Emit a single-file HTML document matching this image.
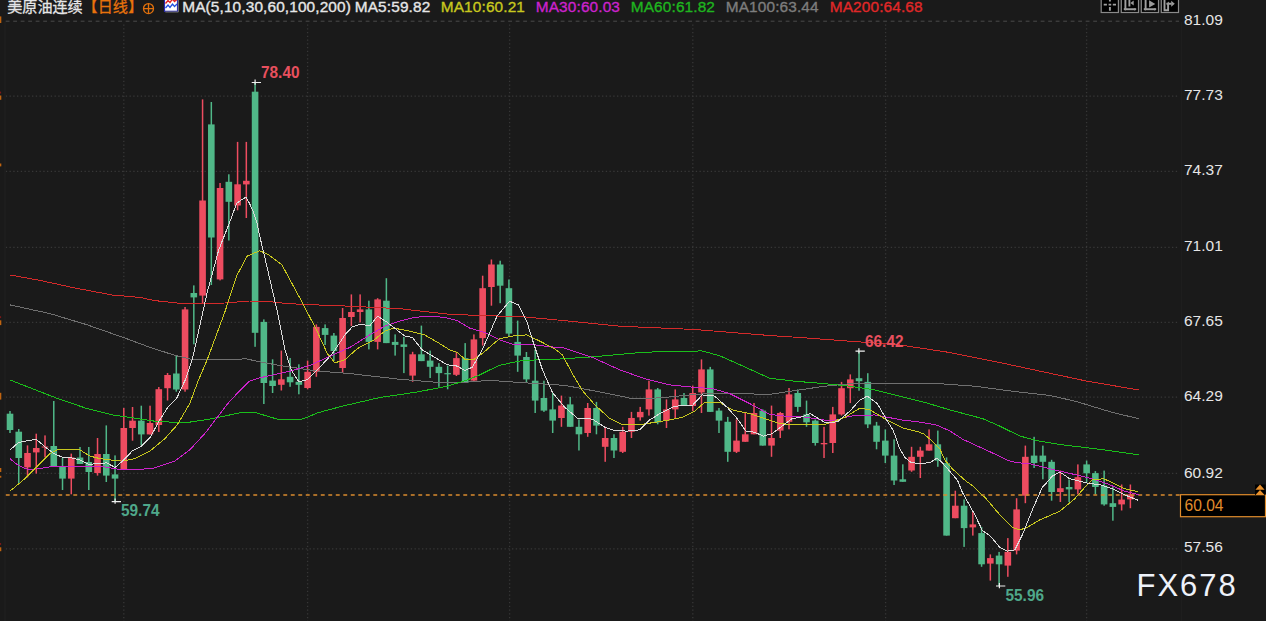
<!DOCTYPE html>
<html lang="zh"><head><meta charset="utf-8"><title>美原油连续 日线</title>
<style>
html,body{margin:0;padding:0;background:#1a1a1a;overflow:hidden}
body{width:1266px;height:621px;position:relative;font-family:"Liberation Sans","Noto Sans CJK SC",sans-serif}
svg{position:absolute;left:0;top:0;display:block}
text{font-family:"Liberation Sans","Noto Sans CJK SC",sans-serif}
.ax{font-size:15.5px;fill:#e6e6e6}
.hd{font-size:15.4px;letter-spacing:0.12px;stroke-width:0.35px}
.mk{font-size:16.3px;font-weight:bold}
</style></head><body>
<svg width="1266" height="621" viewBox="0 0 1266 621">
<rect x="0" y="0" width="1266" height="621" fill="#1a1a1a"/>

<g fill="none" shape-rendering="auto">
<line x1="5.7" y1="21.2" x2="1179" y2="21.2" stroke="#4a4a4a" stroke-width="1" stroke-dasharray="3.8 3.7"/>
<line x1="5.75" y1="96.2" x2="1178" y2="96.2" stroke="#373737" stroke-width="1.3" stroke-dasharray="1.35 2.4"/>
<line x1="5.75" y1="171.3" x2="1178" y2="171.3" stroke="#373737" stroke-width="1.3" stroke-dasharray="1.35 2.4"/>
<line x1="5.75" y1="247.4" x2="1178" y2="247.4" stroke="#373737" stroke-width="1.3" stroke-dasharray="1.35 2.4"/>
<line x1="5.75" y1="322.4" x2="1178" y2="322.4" stroke="#373737" stroke-width="1.3" stroke-dasharray="1.35 2.4"/>
<line x1="5.75" y1="397.2" x2="1178" y2="397.2" stroke="#373737" stroke-width="1.3" stroke-dasharray="1.35 2.4"/>
<line x1="5.75" y1="473.3" x2="1178" y2="473.3" stroke="#373737" stroke-width="1.3" stroke-dasharray="1.35 2.4"/>
<line x1="5.75" y1="548.9" x2="1178" y2="548.9" stroke="#373737" stroke-width="1.3" stroke-dasharray="1.35 2.4"/>
<line x1="123.8" y1="24.5" x2="123.8" y2="621" stroke="#373737" stroke-width="1.3" stroke-dasharray="1.35 2.4"/>
<line x1="307.6" y1="24.5" x2="307.6" y2="621" stroke="#373737" stroke-width="1.3" stroke-dasharray="1.35 2.4"/>
<line x1="509.6" y1="24.5" x2="509.6" y2="621" stroke="#373737" stroke-width="1.3" stroke-dasharray="1.35 2.4"/>
<line x1="692.8" y1="24.5" x2="692.8" y2="621" stroke="#373737" stroke-width="1.3" stroke-dasharray="1.35 2.4"/>
<line x1="885.6" y1="24.5" x2="885.6" y2="621" stroke="#373737" stroke-width="1.3" stroke-dasharray="1.35 2.4"/>
<line x1="1086.6" y1="24.5" x2="1086.6" y2="621" stroke="#373737" stroke-width="1.3" stroke-dasharray="1.35 2.4"/>
<line x1="5" y1="22" x2="5" y2="621" stroke="#1f1f1f" stroke-width="1.6"/>
<line x1="1181.5" y1="22" x2="1181.5" y2="621" stroke="#1e1e1e" stroke-width="1"/>
</g>
<g fill="#c06410">
<rect x="0" y="16.4" width="1.3" height="6.6"/>
<rect x="0" y="95.5" width="1.3" height="4.3"/>
<rect x="0" y="163.5" width="1.3" height="2.9"/>
<rect x="0" y="320.3" width="1.3" height="4.8"/>
<rect x="0" y="392.8" width="1.3" height="6.8"/>
<rect x="0" y="468.0" width="1.3" height="4.0"/>
<rect x="0" y="475.8" width="1.3" height="1.9"/>
<rect x="0" y="547.3" width="1.3" height="3.9"/>
</g>
<g fill="#7a1818">
<rect x="0" y="91.6" width="1.1" height="1.9"/>
<rect x="0" y="316.2" width="1.1" height="1.9"/>
<rect x="0" y="543.0" width="1.1" height="1.9"/>
</g>
<g>
<rect x="9.25" y="411.0" width="1.5" height="22.0" fill="#50b888"/>
<rect x="6.70" y="413.7" width="6.6" height="16.3" fill="#50b888"/>
<rect x="18.00" y="429.0" width="1.5" height="54.6" fill="#50b888"/>
<rect x="15.45" y="431.7" width="6.6" height="26.3" fill="#50b888"/>
<rect x="26.76" y="445.4" width="1.5" height="32.0" fill="#ee4c60"/>
<rect x="24.21" y="453.0" width="6.6" height="14.4" fill="#ee4c60"/>
<rect x="35.51" y="433.7" width="1.5" height="39.9" fill="#ee4c60"/>
<rect x="32.96" y="448.0" width="6.6" height="4.4" fill="#ee4c60"/>
<rect x="44.26" y="435.4" width="1.5" height="22.0" fill="#ee4c60"/>
<rect x="41.71" y="446.5" width="6.6" height="1.0" fill="#ee4c60"/>
<rect x="53.02" y="401.0" width="1.5" height="65.0" fill="#50b888"/>
<rect x="50.47" y="446.0" width="6.6" height="20.0" fill="#50b888"/>
<rect x="61.77" y="458.0" width="1.5" height="32.0" fill="#50b888"/>
<rect x="59.22" y="466.0" width="6.6" height="12.6" fill="#50b888"/>
<rect x="70.52" y="453.6" width="1.5" height="40.7" fill="#ee4c60"/>
<rect x="67.97" y="457.4" width="6.6" height="21.2" fill="#ee4c60"/>
<rect x="79.27" y="447.0" width="1.5" height="17.0" fill="#50b888"/>
<rect x="76.72" y="457.5" width="6.6" height="6.5" fill="#50b888"/>
<rect x="88.03" y="447.0" width="1.5" height="43.0" fill="#50b888"/>
<rect x="85.48" y="462.0" width="6.6" height="10.0" fill="#50b888"/>
<rect x="96.78" y="438.0" width="1.5" height="37.6" fill="#ee4c60"/>
<rect x="94.23" y="454.0" width="6.6" height="19.0" fill="#ee4c60"/>
<rect x="105.53" y="425.4" width="1.5" height="56.6" fill="#50b888"/>
<rect x="102.98" y="454.0" width="6.6" height="21.6" fill="#50b888"/>
<rect x="114.29" y="455.4" width="1.5" height="46.2" fill="#50b888"/>
<rect x="111.74" y="474.4" width="6.6" height="4.2" fill="#50b888"/>
<rect x="123.04" y="408.0" width="1.5" height="62.0" fill="#ee4c60"/>
<rect x="120.49" y="428.0" width="6.6" height="42.0" fill="#ee4c60"/>
<rect x="131.79" y="407.0" width="1.5" height="33.7" fill="#ee4c60"/>
<rect x="129.24" y="420.7" width="6.6" height="7.3" fill="#ee4c60"/>
<rect x="140.55" y="405.7" width="1.5" height="39.7" fill="#50b888"/>
<rect x="138.00" y="420.7" width="6.6" height="13.7" fill="#50b888"/>
<rect x="149.30" y="405.7" width="1.5" height="28.7" fill="#ee4c60"/>
<rect x="146.75" y="423.0" width="6.6" height="11.4" fill="#ee4c60"/>
<rect x="158.05" y="387.0" width="1.5" height="45.0" fill="#ee4c60"/>
<rect x="155.50" y="389.2" width="6.6" height="35.8" fill="#ee4c60"/>
<rect x="166.80" y="373.0" width="1.5" height="27.5" fill="#ee4c60"/>
<rect x="164.25" y="375.0" width="6.6" height="13.2" fill="#ee4c60"/>
<rect x="175.56" y="355.0" width="1.5" height="36.7" fill="#50b888"/>
<rect x="173.01" y="373.5" width="6.6" height="16.0" fill="#50b888"/>
<rect x="184.31" y="307.0" width="1.5" height="84.7" fill="#ee4c60"/>
<rect x="181.76" y="309.4" width="6.6" height="80.1" fill="#ee4c60"/>
<rect x="193.06" y="285.4" width="1.5" height="58.9" fill="#50b888"/>
<rect x="190.51" y="293.0" width="6.6" height="4.4" fill="#50b888"/>
<rect x="201.82" y="99.4" width="1.5" height="203.6" fill="#ee4c60"/>
<rect x="199.27" y="200.5" width="6.6" height="95.1" fill="#ee4c60"/>
<rect x="210.57" y="102.0" width="1.5" height="183.0" fill="#50b888"/>
<rect x="208.02" y="124.4" width="6.6" height="113.1" fill="#50b888"/>
<rect x="219.32" y="183.0" width="1.5" height="97.4" fill="#ee4c60"/>
<rect x="216.77" y="188.0" width="6.6" height="91.4" fill="#ee4c60"/>
<rect x="228.07" y="174.3" width="1.5" height="66.2" fill="#50b888"/>
<rect x="225.52" y="181.8" width="6.6" height="20.0" fill="#50b888"/>
<rect x="236.83" y="141.9" width="1.5" height="68.4" fill="#ee4c60"/>
<rect x="234.28" y="184.3" width="6.6" height="21.2" fill="#ee4c60"/>
<rect x="245.58" y="141.9" width="1.5" height="76.1" fill="#ee4c60"/>
<rect x="243.03" y="180.8" width="6.6" height="3.6" fill="#ee4c60"/>
<rect x="254.33" y="82.5" width="1.5" height="264.3" fill="#50b888"/>
<rect x="251.78" y="91.7" width="6.6" height="241.1" fill="#50b888"/>
<rect x="263.09" y="319.4" width="1.5" height="84.6" fill="#50b888"/>
<rect x="260.54" y="321.9" width="6.6" height="61.1" fill="#50b888"/>
<rect x="271.84" y="359.3" width="1.5" height="33.7" fill="#50b888"/>
<rect x="269.29" y="380.6" width="6.6" height="5.4" fill="#50b888"/>
<rect x="280.59" y="350.6" width="1.5" height="39.9" fill="#ee4c60"/>
<rect x="278.04" y="379.3" width="6.6" height="5.5" fill="#ee4c60"/>
<rect x="289.35" y="358.0" width="1.5" height="28.8" fill="#50b888"/>
<rect x="286.80" y="376.8" width="6.6" height="5.5" fill="#50b888"/>
<rect x="298.10" y="364.3" width="1.5" height="30.0" fill="#50b888"/>
<rect x="295.55" y="381.8" width="6.6" height="3.0" fill="#50b888"/>
<rect x="306.85" y="360.6" width="1.5" height="28.7" fill="#ee4c60"/>
<rect x="304.30" y="371.8" width="6.6" height="16.2" fill="#ee4c60"/>
<rect x="315.61" y="324.4" width="1.5" height="52.4" fill="#ee4c60"/>
<rect x="313.06" y="326.9" width="6.6" height="44.9" fill="#ee4c60"/>
<rect x="324.36" y="324.4" width="1.5" height="20.6" fill="#50b888"/>
<rect x="321.81" y="328.1" width="6.6" height="6.8" fill="#50b888"/>
<rect x="333.11" y="333.0" width="1.5" height="28.0" fill="#50b888"/>
<rect x="330.56" y="335.6" width="6.6" height="15.4" fill="#50b888"/>
<rect x="341.86" y="308.0" width="1.5" height="65.0" fill="#ee4c60"/>
<rect x="339.31" y="318.0" width="6.6" height="50.0" fill="#ee4c60"/>
<rect x="350.62" y="294.4" width="1.5" height="31.6" fill="#ee4c60"/>
<rect x="348.07" y="312.0" width="6.6" height="5.0" fill="#ee4c60"/>
<rect x="359.37" y="294.4" width="1.5" height="28.0" fill="#ee4c60"/>
<rect x="356.82" y="309.4" width="6.6" height="2.6" fill="#ee4c60"/>
<rect x="368.12" y="300.7" width="1.5" height="48.7" fill="#50b888"/>
<rect x="365.57" y="309.4" width="6.6" height="32.5" fill="#50b888"/>
<rect x="376.88" y="298.2" width="1.5" height="51.2" fill="#ee4c60"/>
<rect x="374.33" y="299.4" width="6.6" height="42.5" fill="#ee4c60"/>
<rect x="385.63" y="278.2" width="1.5" height="64.9" fill="#50b888"/>
<rect x="383.08" y="300.7" width="6.6" height="42.4" fill="#50b888"/>
<rect x="394.38" y="334.4" width="1.5" height="21.2" fill="#50b888"/>
<rect x="391.83" y="341.9" width="6.6" height="3.0" fill="#50b888"/>
<rect x="403.13" y="336.9" width="1.5" height="36.2" fill="#50b888"/>
<rect x="400.58" y="344.4" width="6.6" height="2.5" fill="#50b888"/>
<rect x="411.89" y="351.8" width="1.5" height="30.0" fill="#ee4c60"/>
<rect x="409.34" y="354.3" width="6.6" height="21.3" fill="#ee4c60"/>
<rect x="420.64" y="325.6" width="1.5" height="35.5" fill="#50b888"/>
<rect x="418.09" y="354.3" width="6.6" height="6.8" fill="#50b888"/>
<rect x="429.39" y="350.6" width="1.5" height="27.4" fill="#50b888"/>
<rect x="426.84" y="360.6" width="6.6" height="6.2" fill="#50b888"/>
<rect x="438.15" y="363.1" width="1.5" height="23.7" fill="#50b888"/>
<rect x="435.60" y="366.8" width="6.6" height="6.3" fill="#50b888"/>
<rect x="446.90" y="365.6" width="1.5" height="23.7" fill="#50b888"/>
<rect x="444.35" y="373.1" width="6.6" height="1.2" fill="#50b888"/>
<rect x="455.65" y="351.8" width="1.5" height="24.2" fill="#ee4c60"/>
<rect x="453.10" y="358.1" width="6.6" height="16.7" fill="#ee4c60"/>
<rect x="464.41" y="343.1" width="1.5" height="39.9" fill="#50b888"/>
<rect x="461.86" y="358.1" width="6.6" height="24.9" fill="#50b888"/>
<rect x="473.16" y="334.4" width="1.5" height="47.4" fill="#ee4c60"/>
<rect x="470.61" y="339.4" width="6.6" height="41.2" fill="#ee4c60"/>
<rect x="481.91" y="275.7" width="1.5" height="69.9" fill="#ee4c60"/>
<rect x="479.36" y="288.2" width="6.6" height="49.9" fill="#ee4c60"/>
<rect x="490.67" y="259.5" width="1.5" height="46.2" fill="#ee4c60"/>
<rect x="488.12" y="264.5" width="6.6" height="22.5" fill="#ee4c60"/>
<rect x="499.42" y="260.7" width="1.5" height="42.5" fill="#50b888"/>
<rect x="496.87" y="264.5" width="6.6" height="21.2" fill="#50b888"/>
<rect x="508.17" y="279.5" width="1.5" height="56.6" fill="#50b888"/>
<rect x="505.62" y="288.2" width="6.6" height="45.4" fill="#50b888"/>
<rect x="516.92" y="320.6" width="1.5" height="51.2" fill="#50b888"/>
<rect x="514.37" y="341.9" width="6.6" height="13.7" fill="#50b888"/>
<rect x="525.68" y="352.0" width="1.5" height="30.0" fill="#50b888"/>
<rect x="523.13" y="357.0" width="6.6" height="22.4" fill="#50b888"/>
<rect x="534.43" y="349.5" width="1.5" height="63.5" fill="#50b888"/>
<rect x="531.88" y="380.7" width="6.6" height="19.9" fill="#50b888"/>
<rect x="543.18" y="380.7" width="1.5" height="31.2" fill="#50b888"/>
<rect x="540.63" y="398.0" width="6.6" height="12.6" fill="#50b888"/>
<rect x="551.94" y="393.0" width="1.5" height="40.0" fill="#50b888"/>
<rect x="549.39" y="409.4" width="6.6" height="11.2" fill="#50b888"/>
<rect x="560.69" y="395.6" width="1.5" height="31.2" fill="#ee4c60"/>
<rect x="558.14" y="405.6" width="6.6" height="12.4" fill="#ee4c60"/>
<rect x="569.44" y="396.9" width="1.5" height="29.9" fill="#50b888"/>
<rect x="566.89" y="404.4" width="6.6" height="22.4" fill="#50b888"/>
<rect x="578.20" y="419.4" width="1.5" height="31.1" fill="#50b888"/>
<rect x="575.65" y="426.8" width="6.6" height="7.5" fill="#50b888"/>
<rect x="586.95" y="403.0" width="1.5" height="33.8" fill="#ee4c60"/>
<rect x="584.40" y="408.0" width="6.6" height="25.0" fill="#ee4c60"/>
<rect x="595.70" y="401.9" width="1.5" height="32.4" fill="#50b888"/>
<rect x="593.15" y="408.0" width="6.6" height="17.6" fill="#50b888"/>
<rect x="604.45" y="426.8" width="1.5" height="35.0" fill="#ee4c60"/>
<rect x="601.90" y="438.0" width="6.6" height="8.8" fill="#ee4c60"/>
<rect x="613.21" y="434.3" width="1.5" height="23.7" fill="#50b888"/>
<rect x="610.66" y="438.0" width="6.6" height="12.5" fill="#50b888"/>
<rect x="621.96" y="426.8" width="1.5" height="26.2" fill="#ee4c60"/>
<rect x="619.41" y="431.8" width="6.6" height="20.0" fill="#ee4c60"/>
<rect x="630.71" y="411.9" width="1.5" height="26.1" fill="#ee4c60"/>
<rect x="628.16" y="418.0" width="6.6" height="13.8" fill="#ee4c60"/>
<rect x="639.47" y="406.9" width="1.5" height="13.7" fill="#ee4c60"/>
<rect x="636.92" y="411.9" width="6.6" height="5.4" fill="#ee4c60"/>
<rect x="648.22" y="380.7" width="1.5" height="34.9" fill="#ee4c60"/>
<rect x="645.67" y="389.4" width="6.6" height="20.0" fill="#ee4c60"/>
<rect x="656.97" y="388.0" width="1.5" height="36.3" fill="#50b888"/>
<rect x="654.42" y="389.4" width="6.6" height="32.9" fill="#50b888"/>
<rect x="665.73" y="399.4" width="1.5" height="28.6" fill="#ee4c60"/>
<rect x="663.18" y="409.4" width="6.6" height="11.2" fill="#ee4c60"/>
<rect x="674.48" y="389.4" width="1.5" height="28.6" fill="#ee4c60"/>
<rect x="671.93" y="399.4" width="6.6" height="10.0" fill="#ee4c60"/>
<rect x="683.23" y="393.0" width="1.5" height="12.6" fill="#50b888"/>
<rect x="680.68" y="398.0" width="6.6" height="7.6" fill="#50b888"/>
<rect x="691.98" y="385.7" width="1.5" height="25.3" fill="#ee4c60"/>
<rect x="689.43" y="393.0" width="6.6" height="13.0" fill="#ee4c60"/>
<rect x="700.74" y="359.4" width="1.5" height="53.6" fill="#ee4c60"/>
<rect x="698.19" y="369.4" width="6.6" height="23.0" fill="#ee4c60"/>
<rect x="709.49" y="366.9" width="1.5" height="45.0" fill="#50b888"/>
<rect x="706.94" y="369.4" width="6.6" height="42.5" fill="#50b888"/>
<rect x="718.24" y="408.0" width="1.5" height="25.0" fill="#50b888"/>
<rect x="715.69" y="410.6" width="6.6" height="10.0" fill="#50b888"/>
<rect x="727.00" y="416.9" width="1.5" height="44.9" fill="#50b888"/>
<rect x="724.45" y="421.8" width="6.6" height="30.0" fill="#50b888"/>
<rect x="735.75" y="419.4" width="1.5" height="33.6" fill="#ee4c60"/>
<rect x="733.20" y="440.6" width="6.6" height="11.2" fill="#ee4c60"/>
<rect x="744.50" y="413.0" width="1.5" height="28.8" fill="#ee4c60"/>
<rect x="741.95" y="434.3" width="6.6" height="7.5" fill="#ee4c60"/>
<rect x="753.25" y="403.0" width="1.5" height="31.3" fill="#ee4c60"/>
<rect x="750.71" y="413.0" width="6.6" height="21.3" fill="#ee4c60"/>
<rect x="762.01" y="409.4" width="1.5" height="36.2" fill="#50b888"/>
<rect x="759.46" y="410.6" width="6.6" height="35.0" fill="#50b888"/>
<rect x="770.76" y="405.6" width="1.5" height="51.2" fill="#ee4c60"/>
<rect x="768.21" y="438.0" width="6.6" height="7.6" fill="#ee4c60"/>
<rect x="779.51" y="411.9" width="1.5" height="26.1" fill="#ee4c60"/>
<rect x="776.96" y="413.0" width="6.6" height="17.6" fill="#ee4c60"/>
<rect x="788.27" y="388.0" width="1.5" height="41.3" fill="#ee4c60"/>
<rect x="785.72" y="394.4" width="6.6" height="27.4" fill="#ee4c60"/>
<rect x="797.02" y="389.4" width="1.5" height="22.5" fill="#50b888"/>
<rect x="794.47" y="393.0" width="6.6" height="13.9" fill="#50b888"/>
<rect x="805.77" y="400.6" width="1.5" height="26.2" fill="#50b888"/>
<rect x="803.22" y="414.4" width="6.6" height="7.9" fill="#50b888"/>
<rect x="814.53" y="419.4" width="1.5" height="26.2" fill="#50b888"/>
<rect x="811.98" y="420.6" width="6.6" height="22.4" fill="#50b888"/>
<rect x="823.28" y="426.8" width="1.5" height="31.2" fill="#ee4c60"/>
<rect x="820.73" y="443.0" width="6.6" height="1.3" fill="#ee4c60"/>
<rect x="832.03" y="406.9" width="1.5" height="46.1" fill="#ee4c60"/>
<rect x="829.48" y="414.4" width="6.6" height="28.6" fill="#ee4c60"/>
<rect x="840.78" y="381.9" width="1.5" height="33.7" fill="#ee4c60"/>
<rect x="838.24" y="388.2" width="6.6" height="26.2" fill="#ee4c60"/>
<rect x="849.54" y="374.4" width="1.5" height="28.7" fill="#ee4c60"/>
<rect x="846.99" y="379.4" width="6.6" height="8.8" fill="#ee4c60"/>
<rect x="858.29" y="351.2" width="1.5" height="39.5" fill="#50b888"/>
<rect x="855.74" y="378.2" width="6.6" height="3.0" fill="#50b888"/>
<rect x="867.04" y="373.2" width="1.5" height="54.9" fill="#50b888"/>
<rect x="864.49" y="381.9" width="6.6" height="42.5" fill="#50b888"/>
<rect x="875.80" y="421.9" width="1.5" height="27.4" fill="#50b888"/>
<rect x="873.25" y="425.6" width="6.6" height="16.2" fill="#50b888"/>
<rect x="884.55" y="429.4" width="1.5" height="33.6" fill="#50b888"/>
<rect x="882.00" y="440.6" width="6.6" height="15.0" fill="#50b888"/>
<rect x="893.30" y="439.3" width="1.5" height="45.7" fill="#50b888"/>
<rect x="890.75" y="455.6" width="6.6" height="24.9" fill="#50b888"/>
<rect x="902.06" y="464.3" width="1.5" height="17.5" fill="#50b888"/>
<rect x="899.51" y="479.3" width="6.6" height="2.5" fill="#50b888"/>
<rect x="910.81" y="446.8" width="1.5" height="25.0" fill="#ee4c60"/>
<rect x="908.26" y="456.8" width="6.6" height="13.7" fill="#ee4c60"/>
<rect x="919.56" y="446.8" width="1.5" height="31.2" fill="#ee4c60"/>
<rect x="917.01" y="450.6" width="6.6" height="6.2" fill="#ee4c60"/>
<rect x="928.32" y="429.4" width="1.5" height="21.2" fill="#ee4c60"/>
<rect x="925.77" y="444.3" width="6.6" height="6.3" fill="#ee4c60"/>
<rect x="937.07" y="430.6" width="1.5" height="36.2" fill="#50b888"/>
<rect x="934.52" y="444.3" width="6.6" height="16.3" fill="#50b888"/>
<rect x="945.82" y="457.4" width="1.5" height="78.2" fill="#50b888"/>
<rect x="943.27" y="463.2" width="6.6" height="72.4" fill="#50b888"/>
<rect x="954.57" y="490.7" width="1.5" height="27.5" fill="#ee4c60"/>
<rect x="952.02" y="505.7" width="6.6" height="12.5" fill="#ee4c60"/>
<rect x="963.33" y="499.4" width="1.5" height="47.5" fill="#50b888"/>
<rect x="960.78" y="505.7" width="6.6" height="22.4" fill="#50b888"/>
<rect x="972.08" y="511.9" width="1.5" height="23.7" fill="#ee4c60"/>
<rect x="969.53" y="524.4" width="6.6" height="3.0" fill="#ee4c60"/>
<rect x="980.83" y="526.9" width="1.5" height="39.9" fill="#50b888"/>
<rect x="978.28" y="533.1" width="6.6" height="31.2" fill="#50b888"/>
<rect x="989.59" y="554.4" width="1.5" height="26.2" fill="#ee4c60"/>
<rect x="987.04" y="558.1" width="6.6" height="5.5" fill="#ee4c60"/>
<rect x="998.34" y="551.9" width="1.5" height="34.1" fill="#50b888"/>
<rect x="995.79" y="555.6" width="6.6" height="8.7" fill="#50b888"/>
<rect x="1007.09" y="538.1" width="1.5" height="38.7" fill="#ee4c60"/>
<rect x="1004.54" y="551.9" width="6.6" height="13.7" fill="#ee4c60"/>
<rect x="1015.85" y="498.2" width="1.5" height="56.2" fill="#ee4c60"/>
<rect x="1013.30" y="509.4" width="6.6" height="41.2" fill="#ee4c60"/>
<rect x="1024.60" y="445.6" width="1.5" height="57.6" fill="#ee4c60"/>
<rect x="1022.05" y="456.8" width="6.6" height="38.9" fill="#ee4c60"/>
<rect x="1033.35" y="436.8" width="1.5" height="31.2" fill="#50b888"/>
<rect x="1030.80" y="455.6" width="6.6" height="7.4" fill="#50b888"/>
<rect x="1042.10" y="445.6" width="1.5" height="33.7" fill="#50b888"/>
<rect x="1039.55" y="455.6" width="6.6" height="6.2" fill="#50b888"/>
<rect x="1050.86" y="459.8" width="1.5" height="40.9" fill="#50b888"/>
<rect x="1048.31" y="461.8" width="6.6" height="30.2" fill="#50b888"/>
<rect x="1059.61" y="470.5" width="1.5" height="31.5" fill="#ee4c60"/>
<rect x="1057.06" y="488.2" width="6.6" height="3.8" fill="#ee4c60"/>
<rect x="1068.36" y="479.5" width="1.5" height="22.5" fill="#50b888"/>
<rect x="1065.81" y="487.0" width="6.6" height="2.4" fill="#50b888"/>
<rect x="1077.12" y="464.4" width="1.5" height="30.0" fill="#ee4c60"/>
<rect x="1074.57" y="477.2" width="6.6" height="12.2" fill="#ee4c60"/>
<rect x="1085.87" y="460.6" width="1.5" height="21.9" fill="#50b888"/>
<rect x="1083.32" y="464.4" width="6.6" height="8.9" fill="#50b888"/>
<rect x="1094.62" y="471.1" width="1.5" height="23.3" fill="#50b888"/>
<rect x="1092.07" y="473.1" width="6.6" height="13.9" fill="#50b888"/>
<rect x="1103.38" y="470.6" width="1.5" height="35.1" fill="#50b888"/>
<rect x="1100.83" y="485.7" width="6.6" height="18.7" fill="#50b888"/>
<rect x="1112.13" y="487.0" width="1.5" height="33.7" fill="#50b888"/>
<rect x="1109.58" y="503.2" width="6.6" height="3.7" fill="#50b888"/>
<rect x="1120.88" y="484.5" width="1.5" height="26.0" fill="#ee4c60"/>
<rect x="1118.33" y="499.6" width="6.6" height="4.8" fill="#ee4c60"/>
<rect x="1129.63" y="484.5" width="1.5" height="23.7" fill="#ee4c60"/>
<rect x="1127.08" y="494.4" width="6.6" height="5.0" fill="#ee4c60"/>
</g>
<line x1="5.8" y1="495" x2="1181" y2="495" stroke="#d98a2e" stroke-width="1.5" stroke-dasharray="3.9 3.6"/>
<polyline points="10.0,275.0 40.0,280.4 75.0,288.0 112.3,295.0 140.0,297.4 154.8,300.6 182.2,303.6 224.7,303.0 249.6,301.0 264.6,301.0 287.0,303.6 315.8,304.9 350.0,306.2 400.0,308.7 450.0,314.4 500.0,316.1 524.6,316.9 557.4,320.0 619.9,326.2 694.7,329.5 769.6,335.5 800.0,337.5 849.9,341.2 899.9,345.0 949.8,352.5 999.7,362.5 1049.6,373.2 1087.1,381.2 1138.5,389.9" fill="none" stroke="#d42a2a" stroke-width="1.0" stroke-linejoin="round" shape-rendering="crispEdges"/>
<polyline points="10.0,304.9 50.0,313.6 87.4,324.9 124.8,338.0 149.8,347.3 174.7,355.3 189.7,359.0 224.7,359.8 245.9,358.8 262.0,362.3 282.5,366.0 317.4,371.0 350.0,373.6 400.0,379.3 437.0,382.3 464.7,382.3 489.6,380.3 524.6,382.8 564.9,385.4 602.4,392.4 632.3,398.6 659.8,397.9 694.7,394.4 719.7,393.1 769.6,394.4 794.6,390.6 825.0,386.2 849.9,383.7 899.9,383.2 939.8,383.7 974.7,386.2 1012.2,391.2 1049.6,395.4 1074.8,401.1 1112.3,412.4 1138.5,418.6" fill="none" stroke="#707070" stroke-width="1.0" stroke-linejoin="round" shape-rendering="crispEdges"/>
<polyline points="10.0,380.0 32.5,388.7 54.9,397.5 87.4,408.7 112.3,414.9 129.8,417.4 154.8,421.2 184.7,422.9 212.2,418.7 230.0,414.9 242.5,412.4 255.0,412.4 267.4,416.2 279.9,419.9 299.9,419.9 309.9,416.2 317.4,412.9 342.3,406.2 379.8,397.5 417.2,392.0 447.2,386.2 467.1,380.0 479.6,375.0 489.6,370.0 499.6,365.3 519.6,361.0 544.5,359.3 557.4,359.2 594.9,356.7 632.3,353.2 664.8,351.2 689.7,352.0 701.0,350.7 719.7,355.7 744.7,366.9 769.6,378.2 794.6,381.2 825.0,383.7 849.9,386.2 874.9,389.9 899.9,396.2 924.8,402.4 949.8,409.9 982.5,418.6 999.7,426.1 1019.9,436.1 1039.6,441.1 1062.3,444.8 1099.8,449.3 1138.5,454.8" fill="none" stroke="#1abe1a" stroke-width="1.0" stroke-linejoin="round" shape-rendering="crispEdges"/>
<polyline points="10.0,458.6 17.5,464.9 27.5,469.4 39.9,468.6 54.9,466.1 74.9,466.9 99.9,466.1 119.8,469.4 134.8,469.9 154.8,467.9 174.7,461.1 189.7,449.9 204.7,433.7 217.2,417.4 229.7,401.2 239.6,391.0 249.3,381.3 259.9,377.8 274.1,374.7 291.8,370.7 310.0,365.3 324.9,358.6 350.0,347.3 369.8,334.9 384.8,326.1 399.8,321.1 414.8,317.4 429.7,316.1 444.7,317.4 457.2,320.6 469.7,328.1 484.6,332.4 499.6,339.9 514.6,344.8 532.0,344.4 549.5,346.8 562.4,347.5 592.4,357.4 619.9,369.9 644.8,378.7 669.8,384.9 694.7,387.4 712.2,388.6 729.7,393.6 749.7,403.6 769.6,414.4 784.6,416.1 802.1,416.8 815.0,418.5 830.0,421.0 840.0,419.0 849.9,416.1 874.9,414.9 902.2,420.0 921.5,422.3 937.0,425.2 949.9,431.0 962.8,439.3 976.9,445.8 992.4,452.9 1006.6,459.9 1015.6,462.5 1030.0,463.8 1034.8,465.0 1054.8,470.0 1074.7,474.5 1092.2,478.7 1107.2,483.7 1124.7,491.2 1139.0,494.7" fill="none" stroke="#cc22cc" stroke-width="1.0" stroke-linejoin="round" shape-rendering="crispEdges"/>
<polyline points="10.0,491.1 25.0,478.6 39.9,463.6 49.9,453.6 57.4,449.9 79.9,449.9 89.9,456.1 99.9,458.6 109.8,459.9 122.3,461.1 134.8,458.6 149.8,451.1 164.8,438.7 177.2,424.9 189.7,403.7 198.5,380.0 207.2,359.8 224.7,312.4 237.1,275.0 247.1,256.2 259.6,250.7 268.3,254.5 282.0,265.0 299.5,297.4 315.8,328.6 327.4,353.6 334.9,362.8 344.9,359.8 357.3,348.6 374.8,339.4 384.8,331.1 393.5,328.1 409.8,331.1 424.7,334.9 439.7,343.6 449.7,349.9 457.2,352.3 464.7,359.1 473.4,359.8 482.2,353.6 499.6,338.6 514.6,335.6 527.1,334.9 539.6,341.1 554.5,348.6 562.4,354.9 572.4,373.7 582.4,390.6 594.9,404.9 609.9,418.6 622.3,424.8 639.8,424.8 654.8,422.3 669.8,419.9 682.3,417.4 694.7,411.1 704.7,402.4 719.7,402.4 732.2,409.9 749.7,413.6 764.6,418.6 779.6,423.6 794.6,424.8 819.6,424.8 825.0,424.4 844.9,417.4 859.9,408.1 869.9,409.9 886.7,420.0 902.2,427.7 917.7,431.6 924.1,434.2 931.8,440.6 939.6,448.3 944.7,459.9 952.5,469.0 965.3,480.5 973.1,486.3 986.0,498.6 999.9,514.9 1012.3,527.4 1019.8,529.9 1027.3,527.4 1039.8,519.9 1059.8,511.2 1074.7,498.7 1084.7,487.5 1092.2,480.0 1103.4,478.7 1112.2,482.5 1124.7,488.7 1138.4,491.9" fill="none" stroke="#c8c81e" stroke-width="1.0" stroke-linejoin="round" shape-rendering="crispEdges"/>
<polyline points="10.0,449.9 18.7,442.4 27.5,440.7 36.4,439.4 45.2,446.9 53.9,453.6 62.7,457.4 71.4,457.9 80.1,459.9 88.9,464.4 97.6,463.6 106.6,462.9 115.1,467.4 123.8,459.9 132.6,450.6 141.5,446.1 150.3,437.4 159.0,421.2 167.7,407.5 176.5,398.7 185.2,380.0 192.2,359.8 207.2,292.4 218.7,250.0 223.8,237.0 229.0,224.1 232.8,213.8 236.7,203.5 240.6,200.3 246.0,197.1 249.6,203.5 254.1,213.8 257.3,224.1 259.9,237.0 263.1,250.0 270.0,280.0 277.5,312.4 285.0,349.9 291.2,369.8 298.7,381.6 307.4,379.8 317.4,369.8 332.4,353.6 344.9,334.9 352.3,326.9 359.8,324.4 369.8,325.6 377.6,316.1 387.3,322.4 404.8,336.1 412.3,337.4 422.2,349.9 434.7,357.3 447.2,364.8 457.2,366.1 464.7,370.6 472.2,367.3 482.2,349.9 497.1,316.1 509.6,301.2 518.4,304.9 527.1,322.4 532.5,340.0 542.5,369.9 552.4,392.4 564.9,407.4 577.4,418.1 592.4,419.1 604.9,427.3 614.9,430.6 627.3,431.1 639.8,429.8 649.8,419.9 659.8,413.6 674.8,406.1 692.2,405.6 702.2,394.9 714.7,396.1 727.2,407.4 737.2,418.6 745.9,431.1 754.7,432.3 763.4,436.1 772.1,433.6 782.1,426.1 792.1,418.6 800.0,417.4 810.0,413.6 825.0,422.4 837.4,421.9 849.9,411.1 859.9,399.9 867.4,396.1 877.4,403.6 886.7,420.0 893.2,430.3 899.6,448.3 904.8,457.4 911.2,462.5 921.5,463.8 930.5,462.3 937.0,458.0 942.1,462.5 949.9,471.5 957.6,480.5 962.4,492.4 974.9,514.9 982.4,530.6 989.9,535.6 999.9,547.4 1007.3,551.1 1014.8,549.9 1022.3,534.9 1032.3,509.9 1042.3,487.5 1052.3,476.2 1059.8,472.0 1069.7,478.7 1079.7,481.2 1089.7,483.7 1099.7,484.5 1112.2,488.7 1124.7,494.9 1138.4,500.4" fill="none" stroke="#dcdcdc" stroke-width="1.0" stroke-linejoin="round" shape-rendering="crispEdges"/>
<path d="M251.7 82.5h9.3M255.1 79.5v5.2" stroke="#f0f0f0" stroke-width="1.2" fill="none"/>
<path d="M855.5 351.2h9.3M858.9 348.2v5.2" stroke="#f0f0f0" stroke-width="1.2" fill="none"/>
<path d="M111.7 501.6h9.3M115.1 498.6v5.2" stroke="#f0f0f0" stroke-width="1.2" fill="none"/>
<path d="M996.0 586.0h9.3M999.4 583.0v5.2" stroke="#f0f0f0" stroke-width="1.2" fill="none"/>
<text class="mk" transform="translate(261.0 78.4) scale(0.945 1)" fill="#e8505e">78.40</text>
<text class="mk" transform="translate(865.0 346.8) scale(0.945 1)" fill="#e8505e">66.42</text>
<text class="mk" transform="translate(121.0 515.8) scale(0.945 1)" fill="#4fa88a">59.74</text>
<text class="mk" transform="translate(1005.5 601.0) scale(0.945 1)" fill="#4fa88a">55.96</text>
<text class="ax" x="1184" y="25.0">81.09</text>
<text class="ax" x="1184" y="100.4">77.73</text>
<text class="ax" x="1184" y="175.0">74.37</text>
<text class="ax" x="1184" y="251.0">71.01</text>
<text class="ax" x="1184" y="326.0">67.65</text>
<text class="ax" x="1184" y="401.4">64.29</text>
<text class="ax" x="1184" y="477.8">60.92</text>
<text class="ax" x="1184" y="552.4">57.56</text>
<rect x="1180.5" y="494.7" width="85" height="22" fill="#000" stroke="#e08c2c" stroke-width="1.2"/>
<text x="1184.5" y="510.8" font-size="15.6" fill="#e08c2c">60.04</text>
<rect x="1255" y="484.5" width="10.5" height="10.5" fill="#000"/>
<path d="M1260 484.5l4.6 5.2h-9.2zM1260 490l4.6 5h-9.2z" fill="#e8902c"/>
<text x="1136.5" y="596" font-size="31" letter-spacing="2" fill="#eef2fa">FX678</text>
<text x="7.2" y="12" fill="#e6e6e6" stroke="#e6e6e6" stroke-width="0.3" style="font-size:15.1px">美原油连续</text>
<text x="82.6" y="12" fill="#e8730c" stroke="#e8730c" stroke-width="0.3" style="font-size:15.1px">【日线】</text>
<g stroke="#e0700c" stroke-width="1.3" fill="none"><circle cx="148.5" cy="8.6" r="5"/><path d="M143.5 8.6h10M148.5 3.6v10"/></g>
<g><rect x="164.5" y="-3" width="13" height="14.3" fill="#fff" stroke="#2a2ab0" stroke-width="1.2"/><path d="M178.4 -2v14h-13" stroke="#777" stroke-width="1" fill="none"/><polyline points="165.5,3.5 168,0.5 170,2.5 172.5,-1 174.5,1.5 177,-0.5" fill="none" stroke="#e02020" stroke-width="1.3"/><polyline points="165.5,8 168,5 170,7.5 172.5,4 174.5,6.5 177,4" fill="none" stroke="#2050e0" stroke-width="1.3"/></g>
<text class="hd" x="182.3" y="12.3" fill="#e6e6e6" stroke="#e6e6e6">MA(5,10,30,60,100,200)</text>
<text class="hd" x="354.8" y="12.3" fill="#e6e6e6" stroke="#e6e6e6">MA5:59.82</text>
<text class="hd" x="440.8" y="12.3" fill="#c8c81e" stroke="#c8c81e">MA10:60.21</text>
<text class="hd" x="535.8" y="12.3" fill="#cc22cc" stroke="#cc22cc">MA30:60.03</text>
<text class="hd" x="630.8" y="12.3" fill="#1fb41f" stroke="#1fb41f">MA60:61.82</text>
<text class="hd" x="725.8" y="12.3" fill="#7d7d7d" stroke="#7d7d7d">MA100:63.44</text>
<text class="hd" x="829.8" y="12.3" fill="#e02828" stroke="#e02828">MA200:64.68</text>
<g fill="#000" stroke="#8a8a8a" stroke-width="1.2">
<rect x="1101.2" y="-3" width="17.2" height="15.5"/>
<rect x="1121.3" y="-3" width="17.2" height="15.5"/>
<rect x="1141.3" y="-3" width="17.2" height="15.5"/>
<rect x="1161.3" y="-3" width="17.2" height="15.5"/>
</g>
<g stroke="#a0a0a0" stroke-width="1.9" fill="none">
<path d="M1103.7 4.6h3.2M1108.6 4.6h2.6M1112.8 4.6h3.2M1109.9 0v1.6M1109.9 7.1v3.6"/>
<path d="M1125.4 -1v11M1123.8 9.3h12.4M1129.4 -1v7.5"/><path d="M1123.8 9.3l2-1.4v2.8zM1136.2 9.3l-2-1.4v2.8zM1130.4 3l3.3-2.6v5.2z" fill="#9a9a9a" stroke="none"/>
<path d="M1145.6 -1v11M1143.8 9.3h12.4"/><path d="M1143.8 9.3l2-1.4v2.8zM1156.2 9.3l-2-1.4v2.8zM1149.1 0.3l6.2 3.6l-6.2 3.6z" fill="#9a9a9a" stroke="none"/>
<path d="M1164.5 -1v11.3h3.6v-5.5M1166.5 3.8h5"/><path d="M1166.3 3.8l2.6-2.4v4.8zM1174.8 3.8l-3.6-3v6z" fill="#9a9a9a" stroke="none"/>
</g>
</svg></body></html>
